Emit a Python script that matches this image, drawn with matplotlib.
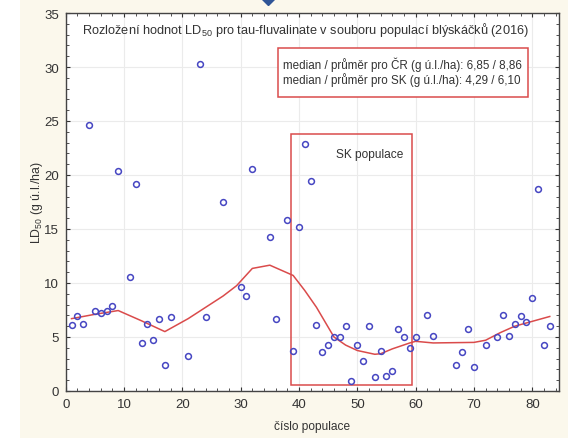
import matplotlib
matplotlib.use("Agg")
import matplotlib.pyplot as plt
from matplotlib.patches import Rectangle
from matplotlib.lines import Line2D
from matplotlib.ticker import MultipleLocator

plt.rcParams.update({
    "font.family": ["Liberation Sans", "DejaVu Sans"],
    "mathtext.fontset": "custom",
    "mathtext.rm": "Liberation Sans",
    "mathtext.it": "Liberation Sans:italic",
    "mathtext.bf": "Liberation Sans:bold",
})

# population number vs. LD50 (g a.i./ha)
pop_x = [1, 2, 3, 4, 5, 6, 7, 8, 9, 11, 12, 13, 14, 15, 16, 17, 18, 21, 23, 24,
         27, 30, 31, 32, 35, 36, 38, 39, 40, 41, 42, 43, 44, 45, 46, 47, 48, 49,
         50, 51, 52, 53, 54, 55, 56, 57, 58, 59, 60, 62, 63, 67, 68, 69, 70, 72,
         74, 75, 76, 77, 78, 79, 80, 81, 82, 83]
ld50 = [6.1, 6.9, 6.2, 24.6, 7.4, 7.2, 7.4, 7.85, 20.4, 10.55, 19.2, 4.45, 6.2,
        4.75, 6.7, 2.4, 6.85, 3.25, 30.3, 6.85, 17.5, 9.6, 8.8, 20.6, 14.3, 6.65,
        15.8, 3.7, 15.2, 22.9, 19.4, 6.15, 3.65, 4.3, 5.0, 5.0, 6.0, 0.9, 4.3,
        2.8, 6.0, 1.3, 3.75, 1.4, 1.85, 5.7, 5.0, 4.0, 5.0, 7.0, 5.1, 2.45, 3.65,
        5.75, 2.2, 4.3, 5.0, 7.0, 5.1, 6.25, 6.9, 6.4, 8.6, 18.75, 4.3, 6.05]

# smoothed trend
trend_x = [1, 2, 5, 9, 13, 17, 18, 21, 24, 27, 29.3, 32, 35, 39, 41, 43, 46,
           48, 50, 53, 54, 56, 59, 60, 63, 70, 72, 74.5, 77, 80, 83]
trend_y = [6.7, 6.8, 7.1, 7.45, 6.5, 5.5, 5.8, 6.7, 7.75, 8.8, 9.75, 11.35,
           11.65, 10.7, 9.3, 7.75, 5.0, 4.25, 3.75, 3.4, 3.45, 3.9, 4.45, 4.6,
           4.45, 4.5, 4.7, 5.4, 6.0, 6.45, 6.9]

TITLE = "Rozložení hodnot LD$_{50}$ pro tau-fluvalinate v souboru populací blýskáčků (2016)"
STATS = ["median / průměr pro ČR (g ú.l./ha): 6,85 / 8,86",
         "median / průměr pro SK (g ú.l./ha): 4,29 / 6,10"]

BG = "#FBF8EC"
RED = "#DA4B4B"
BLUE = "#4646C2"
TXT = "#333333"

fig = plt.figure(figsize=(5.68, 4.39), dpi=100, facecolor=BG)
# white strip on the left edge of the slide
fig.patches.append(Rectangle((0, 0), 20 / 568, 1, transform=fig.transFigure,
                             facecolor="white", edgecolor="none", zorder=-1))
# decorative diamond cut by the top edge
fig.add_artist(Line2D([268 / 568], [1.0], marker="D", markersize=6,
                      color="#2F5597", transform=fig.transFigure, clip_on=False))

ax = fig.add_axes([65.7 / 568, 47 / 439, 492.8 / 568, 378 / 439])
ax.set_facecolor("white")

ax.plot(trend_x, trend_y, color=RED, lw=1.1, zorder=3)
ax.plot(pop_x, ld50, linestyle="none", marker="o", markersize=4.2,
        markerfacecolor="none", markeredgecolor=BLUE, markeredgewidth=1.1, zorder=4)

ax.set_xlim(0, 84.5)
ax.set_ylim(0, 35)
ax.xaxis.set_major_locator(MultipleLocator(10))
ax.xaxis.set_minor_locator(MultipleLocator(2))
ax.yaxis.set_major_locator(MultipleLocator(5))
ax.yaxis.set_minor_locator(MultipleLocator(1))
ax.tick_params(which="both", direction="in", top=True, right=True,
               color="#333333", labelsize=9.5, labelcolor=TXT)
ax.tick_params(which="major", length=3, pad=5)
ax.tick_params(which="minor", length=2)
ax.grid(True, which="major", color="#EBEBEB", lw=0.8)
ax.set_axisbelow(True)
for sp in ax.spines.values():
    sp.set_color("#444444")
    sp.set_linewidth(1.0)

ax.set_xlabel("číslo populace", fontsize=8.6, color=TXT, labelpad=7)
ax.set_ylabel("LD$_{50}$ (g ú.l./ha)", fontsize=8.9, color=TXT, labelpad=-1)

ax.text(41.1, 33.5, TITLE, ha="center", va="center", fontsize=9.2, color=TXT)

# SK populations box
ax.add_patch(Rectangle((38.65, 0.55), 20.8, 23.25, fill=False,
                       edgecolor=RED, lw=1.1, zorder=2))
ax.text(52.2, 21.9, "SK populace", ha="center", va="center",
        fontsize=8.6, color=TXT)

# stats box
ax.add_patch(Rectangle((36.46, 27.25), 42.74, 4.55, facecolor="white",
                       edgecolor=RED, lw=1.1, zorder=2))
ax.text(37.33, 30.28, STATS[0], ha="left", va="center", fontsize=8.4,
        color=TXT, zorder=5)
ax.text(37.33, 28.9, STATS[1], ha="left", va="center", fontsize=8.4,
        color=TXT, zorder=5)

fig.savefig("out.png", dpi=100, facecolor=BG)
